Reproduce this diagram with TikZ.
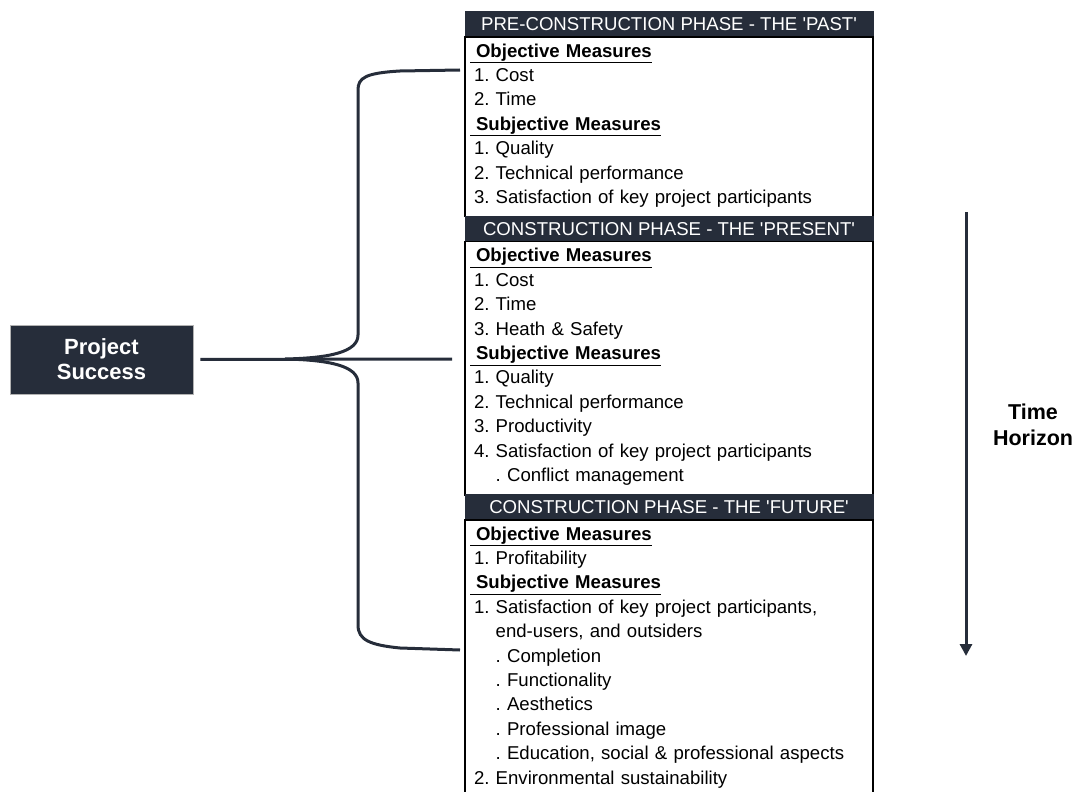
\documentclass[tikz,border=0pt]{standalone}
\usepackage{fontspec}
\setmainfont{Liberation Sans}[Ligatures=TeXOff]
\usetikzlibrary{positioning, arrows.meta}
\definecolor{navy}{RGB}{38,45,58}
\frenchspacing
\newcommand{\MeasureHead}[1]{\hspace*{-4pt}\underline{\textbf{\hspace{6pt}#1}}}
\newcommand{\SubPoint}[1]{\hphantom{1. }#1}
\newcommand{\EndGap}{\rule[-10.4pt]{0pt}{10pt}}

\begin{document}
\begin{tikzpicture}[x=1pt, y=-1pt,
    phasehead/.style={rectangle, fill=navy, draw=navy, line width=1pt, text=white,
        minimum width=408pt, minimum height=25pt, inner sep=0pt, outer sep=0pt,
        font=\fontsize{18.6}{22}\selectfont},
    phasebody/.style={rectangle, draw=black, line width=1.2pt, fill=white,
        text width=390pt, inner xsep=9pt, inner ysep=3pt, outer sep=0pt, align=left,
        font=\fontsize{18.6}{24.4}\selectfont},
    darkbox/.style={rectangle, fill=navy, draw=gray!60, line width=0.8pt, text=white,
        minimum width=183pt, minimum height=69pt, align=center,
        font=\bfseries\fontsize{22}{25}\selectfont},
    bracket/.style={draw=navy, line width=3pt},
]
    \clip (0,0) rectangle (1082,792);

    % the three phases
    \node[phasehead] (hPast) at (669,24.5) {PRE-CONSTRUCTION PHASE - THE 'PAST'};
    \node[phasebody, below=0pt of hPast] (bPast) {\strut\MeasureHead{Objective Measures}\\
        1. Cost\\
        2. Time\\
        \MeasureHead{Subjective Measures}\\
        1. Quality\\
        2. Technical performance\\
        3. Satisfaction of key project participants\EndGap};

    \node[phasehead, below=0pt of bPast] (hPresent) {CONSTRUCTION PHASE - THE 'PRESENT'};
    \node[phasebody, below=0pt of hPresent] (bPresent) {\strut\MeasureHead{Objective Measures}\\
        1. Cost\\
        2. Time\\
        3. Heath \& Safety\\
        \MeasureHead{Subjective Measures}\\
        1. Quality\\
        2. Technical performance\\
        3. Productivity\\
        4. Satisfaction of key project participants\\
        \SubPoint{. Conflict management}\EndGap};

    \node[phasehead, below=0pt of bPresent] (hFuture) {CONSTRUCTION PHASE - THE 'FUTURE'};
    \node[phasebody, below=0pt of hFuture] (bFuture) {\strut\MeasureHead{Objective Measures}\\
        1. Profitability\\
        \MeasureHead{Subjective Measures}\\
        1. Satisfaction of key project participants,\\
        \SubPoint{end-users, and outsiders}\\
        \SubPoint{. Completion}\\
        \SubPoint{. Functionality}\\
        \SubPoint{. Aesthetics}\\
        \SubPoint{. Professional image}\\
        \SubPoint{. Education, social \& professional aspects}\\
        2. Environmental sustainability\EndGap};

    \node[darkbox] (success) at (101.5,359.5) {Project\\Success};

    % brace
    \coordinate (braceTop) at (460,70);
    \coordinate (braceBot) at (460,650);
    \coordinate (braceTip) at (285,359);
    \coordinate (midEnd) at (452,359);
    \draw[bracket] (braceTop) -- (400,71) .. controls (365,73) and (358,78) .. (358,90)
        -- (358,335) .. controls (358,352) and (330,358) .. (braceTip)
        .. controls (330,360) and (358,366) .. (358,383)
        -- (358,625) .. controls (358,640) and (370,645) .. (400,648) -- (braceBot);
    \draw[bracket, shorten <=7pt] (success.east) -- (midEnd);

    % time axis
    \coordinate (timeTop) at (966,212);
    \coordinate (timeEnd) at (966,656);
    \draw[navy, line width=3pt, -{Triangle[width=12pt,length=12pt]}] (timeTop) -- (timeEnd);
    \node[font=\bfseries\fontsize{21.5}{26}\selectfont, align=center] (horizon) at (1033,425) {Time\\Horizon};
\end{tikzpicture}
\end{document}
